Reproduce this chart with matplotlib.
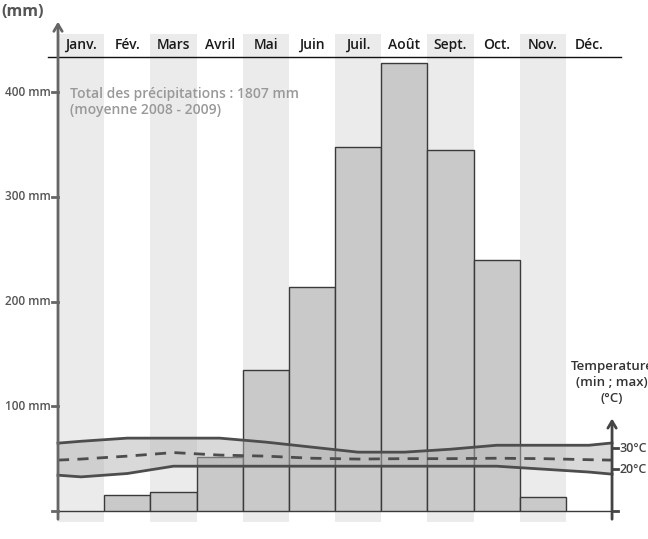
import matplotlib.pyplot as plt
import numpy as np

# data
months = ["Janv.", "Fév.", "Mars", "Avril", "Mai", "Juin",
          "Juil.", "Août", "Sept.", "Oct.", "Nov.", "Déc."]
precip_mm = [0, 15, 18, 52, 135, 214, 348, 428, 345, 240, 13, 0]

# temperature curves: left edge, mid-month values, right edge
temp_x = [0, 0.5, 1.5, 2.5, 3.5, 4.5, 5.5, 6.5, 7.5, 8.5, 9.5, 10.5, 11.5, 12]
temp_max = [32.4, 33.3, 34.8, 34.8, 34.8, 32.9, 30.5, 28.1, 28.1, 29.5, 31.4, 31.4, 31.4, 32.5]
temp_min = [17.1, 16.3, 17.9, 21.4, 21.4, 21.4, 21.4, 21.4, 21.4, 21.4, 21.4, 20.0, 18.6, 17.6]
temp_mean = [24.3, 24.8, 26.2, 27.9, 26.7, 26.2, 25.2, 24.8, 25.0, 25.0, 25.2, 25.0, 24.5, 24.3]

precip_ticks = [100, 200, 300, 400]
temp_ticks = [20, 30]
total_text = "Total des précipitations : 1807 mm\n(moyenne 2008 - 2009)"

plt.rcParams["font.family"] = ["Open Sans", "DejaVu Sans"]

W, H = 648, 539
px_month = 46.17   # pixels per month
px_mm = 1.047      # pixels per mm
x0_px, y0_px = 58, 511

fig = plt.figure(figsize=(W / 100, H / 100), dpi=100)
ax = fig.add_axes([0, 0, 1, 1])
ax.set_xlim(-x0_px / px_month, (W - x0_px) / px_month)
ax.set_ylim(-(H - y0_px) / px_mm, y0_px / px_mm)
ax.axis("off")

stripe_bot, stripe_top = -10.5, 456
header_y = 433.6

# alternating month stripes
for i in range(len(months)):
    if i % 2 == 0:
        ax.fill_between([i, i + 1], stripe_bot, stripe_top, color="#ebebeb", lw=0, zorder=0)
    ax.text(i + 0.5, 445, months[i], ha="center", va="center",
            fontsize=10, fontweight="semibold", color="#1a1a1a")
ax.plot([-0.22, 12.2], [header_y, header_y], color="#111111", lw=1, zorder=3)

# precipitation bars
xs = np.arange(len(months)) + 0.5
ax.bar(xs, precip_mm, width=1, color="#c9c9c9", edgecolor="#3a3a3a", lw=1, zorder=2)

# temperature band (2 mm per degree)
tx = np.array(temp_x)
tmax = 2 * np.array(temp_max)
tmin = 2 * np.array(temp_min)
tmean = 2 * np.array(temp_mean)
ax.fill_between(tx, tmin, tmax, color="#b5b5b5", alpha=0.5, lw=0, zorder=3)
ax.plot(tx, tmax, color="#4d4d4d", lw=2, zorder=4)
ax.plot(tx, tmin, color="#4d4d4d", lw=2, zorder=4)
ax.plot(tx, tmean, color="#4d4d4d", lw=2, dashes=(4, 3), zorder=4)

# left axis
ax.annotate("", xy=(0, 470), xytext=(0, -10.5),
            arrowprops=dict(arrowstyle="->,head_length=0.5,head_width=0.3",
                            color="#666666", lw=2), zorder=5)
for t in [0] + precip_ticks:
    ax.plot([-0.13, 0], [t, t], color="#666666", lw=2, zorder=5)
for t in precip_ticks:
    ax.text(-0.16, t, f"{t} mm", ha="right", va="center",
            fontsize=8.5, fontweight="semibold", color="#555555")
ax.text(-1.22, 476.5, "(mm)", ha="left", va="center",
        fontsize=11.5, fontweight="bold", color="#555555")

ax.text(0.26, 391, total_text, ha="left", va="center", fontsize=10,
        fontweight="semibold", color="#999999", linespacing=1.2)

# right axis (temperature)
ax.annotate("", xy=(12, 91), xytext=(12, -10.5),
            arrowprops=dict(arrowstyle="->,head_length=0.5,head_width=0.3",
                            color="#444444", lw=2), zorder=5)
for t in [0] + temp_ticks:
    ax.plot([12, 12.13], [2 * t, 2 * t], color="#444444", lw=2, zorder=5)
for t in temp_ticks:
    ax.text(12.17, 2 * t, f"{t}°C", ha="left", va="center",
            fontsize=9, fontweight="semibold", color="#444444")
ax.text(12, 123, "Temperature\n(min ; max)\n(°C)", ha="center", va="center",
        fontsize=9.5, fontweight="semibold", color="#333333", linespacing=1.3)

plt.savefig("out.png", dpi=100)
